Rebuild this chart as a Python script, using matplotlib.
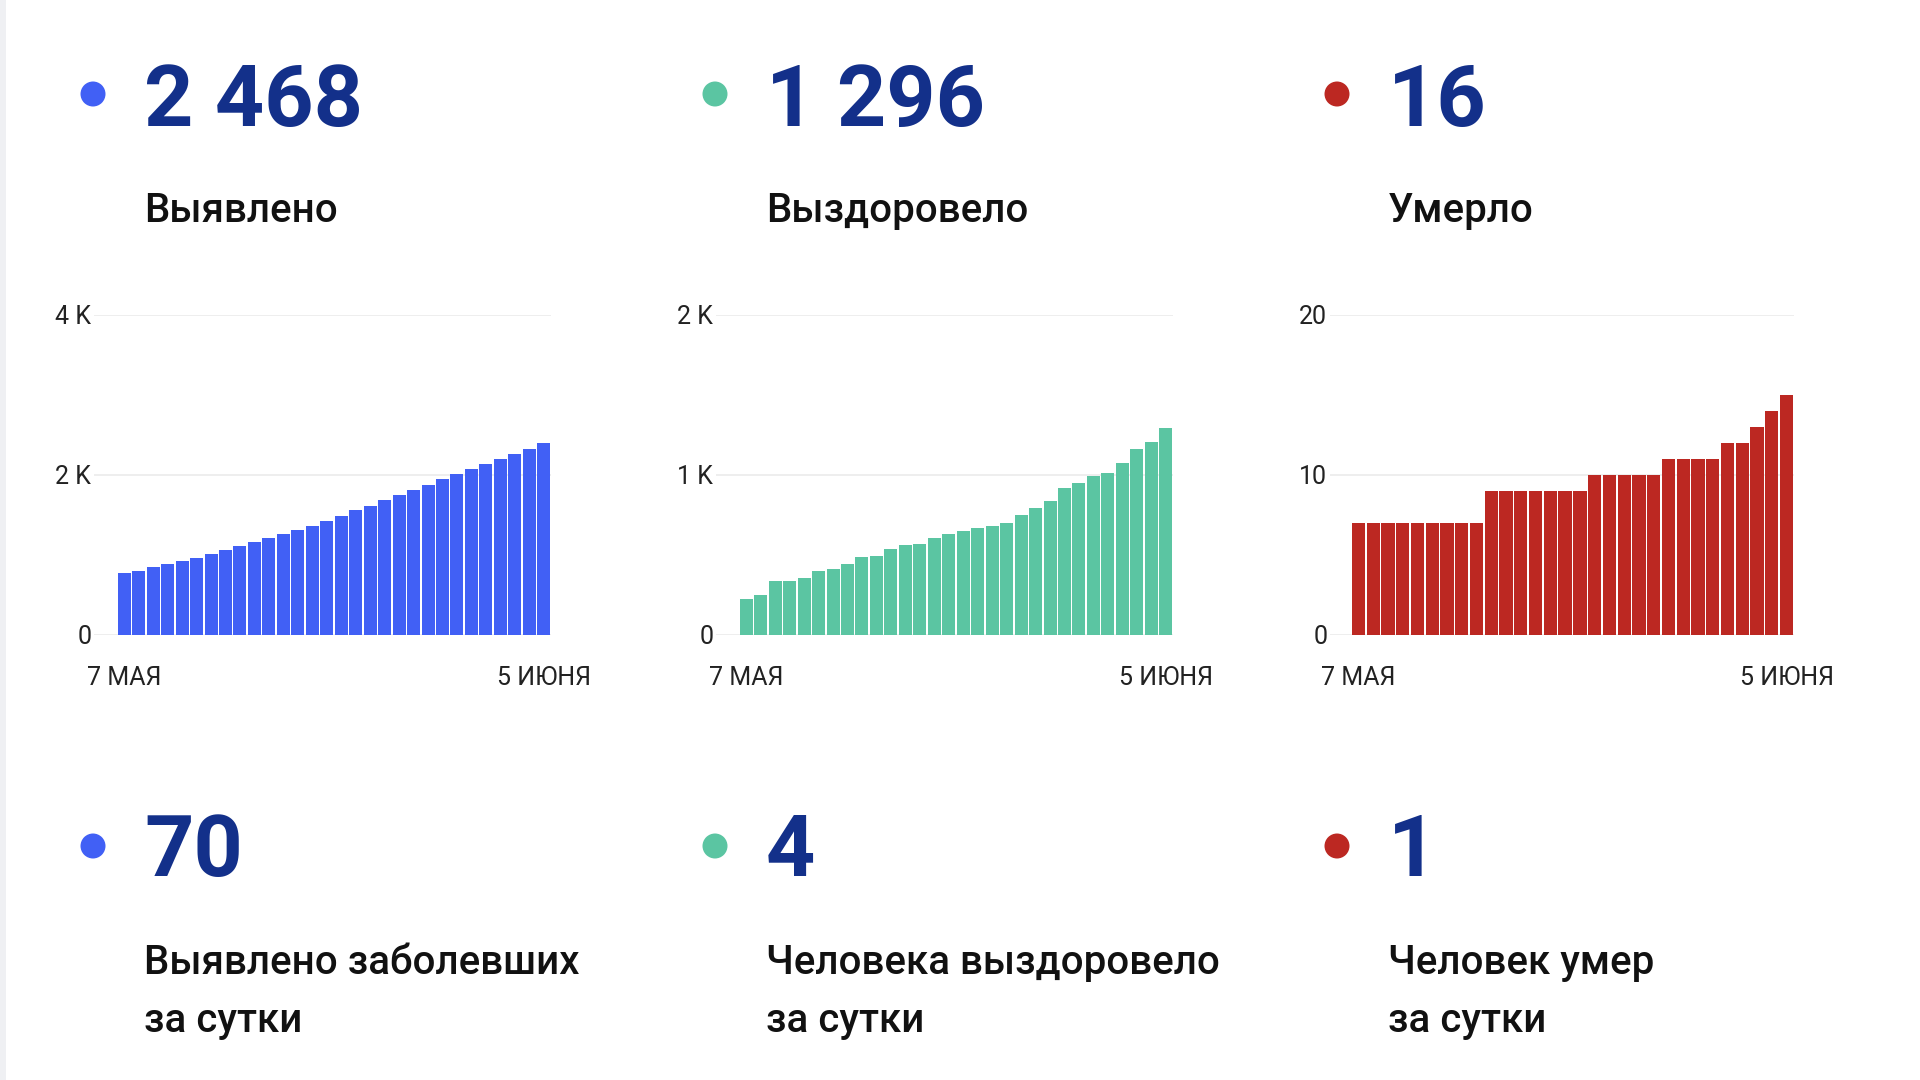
import matplotlib.pyplot as plt
from matplotlib.patches import Rectangle, Ellipse

plt.rcParams['font.family'] = ['Roboto', 'DejaVu Sans']

# cumulative values, 7 May .. 5 June (30 days)
detected = [771, 804, 850, 883, 921, 967, 1013, 1063, 1113, 1163,
            1208, 1258, 1313, 1367, 1429, 1492, 1558, 1617, 1683, 1746,
            1813, 1879, 1946, 2008, 2071, 2133, 2196, 2263, 2321, 2398]
recovered = [225, 248, 335, 335, 358, 398, 413, 444, 490, 496,
             540, 565, 569, 608, 633, 648, 671, 683, 700, 750,
             796, 835, 917, 952, 996, 1010, 1077, 1160, 1204, 1292]
died = [7, 7, 7, 7, 7, 7, 7, 7, 7, 9,
        9, 9, 9, 9, 9, 9, 10, 10, 10, 10,
        10, 11, 11, 11, 11, 12, 12, 13, 14, 15]

date_labels = ['7 МАЯ', '5 ИЮНЯ']
totals = ['2 468', '1 296', '16']
titles = ['Выявлено', 'Выздоровело', 'Умерло']
daily = ['70', '4', '1']
daily_titles = ['Выявлено заболевших\nза сутки', 'Человека выздоровело\nза сутки', 'Человек умер\nза сутки']
y_ticks = [[0, 2000, 4000], [0, 1000, 2000], [0, 10, 20]]
y_ticklabels = [['0', '2 K', '4 K'], ['0', '1 K', '2 K'], ['0', '10', '20']]

colors = ['#4160f5', '#5bc5a2', '#bc2822']
navy = '#13308a'

W, H = 1920, 1080
fig = plt.figure(figsize=(19.2, 10.8), dpi=100)
fig.patch.set_facecolor('white')


def fx(px):
    return px / W


def fy(py):
    return 1 - py / H


# grey strip at the left edge of the screenshot
fig.patches.append(Rectangle((0, 0), fx(6), 1, transform=fig.transFigure,
                             facecolor='#eff0f3', edgecolor='none'))

col_step = 622
series = [detected, recovered, died]
# axes extents in pixels: (grid start, first bar left edge, last bar right edge)
axes_px = [(94, 117, 551), (716, 739, 1173), (1330, 1351, 1794)]

for i, vals in enumerate(series):
    g0, b0, b1 = axes_px[i]
    n = len(vals)
    unit = (b1 - b0) / n
    ax = fig.add_axes([fx(g0), fy(635), fx(b1 - g0), (635 - 315) / H])
    ax.bar(range(n), vals, width=0.9, color=colors[i], zorder=2)
    ax.set_xlim(-0.5 - (b0 - g0) / unit, n - 0.5)
    ax.set_ylim(0, y_ticks[i][-1])
    ax.set_yticks(y_ticks[i])
    ax.set_yticklabels(y_ticklabels[i])
    ax.set_xticks([0, n - 1])
    ax.set_xticklabels(date_labels)
    ax.tick_params(axis='y', length=0, pad=2, labelsize=18, labelcolor='#222222')
    ax.tick_params(axis='x', length=0, pad=22, labelsize=18, labelcolor='#222222')
    ax.grid(axis='y', color='#ebebeb', linewidth=1.2, zorder=0)
    for s in ax.spines.values():
        s.set_visible(False)

    dot_x = 93 + col_step * i
    num_x = 144 + col_step * i

    # top row: totals
    fig.patches.append(Ellipse((fx(dot_x), fy(94)), 25 / W, 25 / H,
                               transform=fig.transFigure, facecolor=colors[i],
                               edgecolor='none'))
    fig.text(fx(num_x), fy(126), totals[i], fontsize=62, fontweight='bold',
             color=navy, va='baseline', ha='left')
    fig.text(fx(num_x), fy(222), titles[i], fontsize=29, fontweight='medium',
             color='#111111', va='baseline', ha='left')

    # bottom row: daily numbers
    fig.patches.append(Ellipse((fx(dot_x), fy(846)), 25 / W, 25 / H,
                               transform=fig.transFigure, facecolor=colors[i],
                               edgecolor='none'))
    fig.text(fx(num_x), fy(876), daily[i], fontsize=62, fontweight='bold',
             color=navy, va='baseline', ha='left')
    line1, line2 = daily_titles[i].split('\n')
    fig.text(fx(num_x), fy(974), line1, fontsize=29, fontweight='medium',
             color='#111111', va='baseline', ha='left')
    fig.text(fx(num_x), fy(1032), line2, fontsize=29, fontweight='medium',
             color='#111111', va='baseline', ha='left')

fig.savefig('out.png', dpi=100, facecolor='white')
